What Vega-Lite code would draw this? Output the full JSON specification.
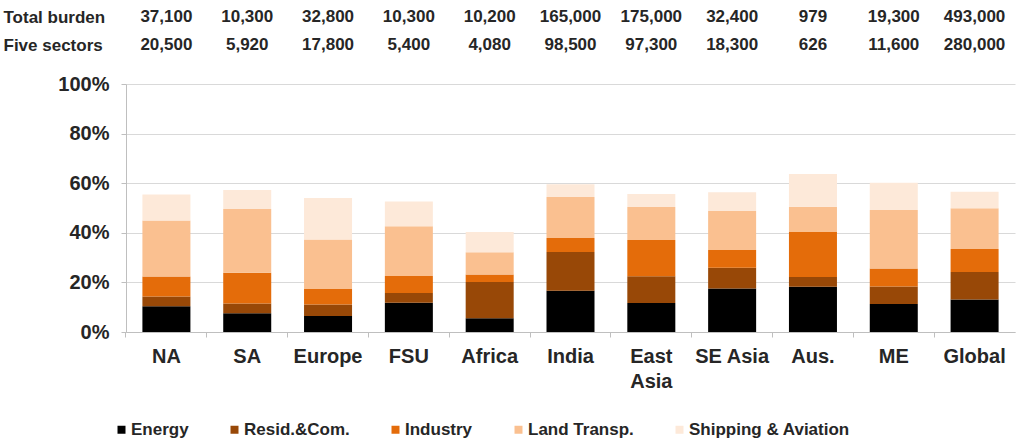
{
  "$schema": "https://vega.github.io/schema/vega-lite/v6.json",
  "padding": {"left": 3, "top": 3, "right": 4, "bottom": 0},
  "config": {
    "view": {"stroke": null},
    "font": "Liberation Sans"
  },
  "bounds": "flush",
  "spacing": 25,
  "resolve": {"scale": {"x": "independent"}, "axis": {"x": "independent"}},
  "datasets": {
    "header": [
      {"region": "NA", "row": "Total burden", "amount": 37100},
      {"region": "SA", "row": "Total burden", "amount": 10300},
      {"region": "Europe", "row": "Total burden", "amount": 32800},
      {"region": "FSU", "row": "Total burden", "amount": 10300},
      {"region": "Africa", "row": "Total burden", "amount": 10200},
      {"region": "India", "row": "Total burden", "amount": 165000},
      {"region": "East Asia", "row": "Total burden", "amount": 175000},
      {"region": "SE Asia", "row": "Total burden", "amount": 32400},
      {"region": "Aus.", "row": "Total burden", "amount": 979},
      {"region": "ME", "row": "Total burden", "amount": 19300},
      {"region": "Global", "row": "Total burden", "amount": 493000},
      {"region": "NA", "row": "Five sectors", "amount": 20500},
      {"region": "SA", "row": "Five sectors", "amount": 5920},
      {"region": "Europe", "row": "Five sectors", "amount": 17800},
      {"region": "FSU", "row": "Five sectors", "amount": 5400},
      {"region": "Africa", "row": "Five sectors", "amount": 4080},
      {"region": "India", "row": "Five sectors", "amount": 98500},
      {"region": "East Asia", "row": "Five sectors", "amount": 97300},
      {"region": "SE Asia", "row": "Five sectors", "amount": 18300},
      {"region": "Aus.", "row": "Five sectors", "amount": 626},
      {"region": "ME", "row": "Five sectors", "amount": 11600},
      {"region": "Global", "row": "Five sectors", "amount": 280000}
    ],
    "shares": [
      {"region": "NA", "sector": "Energy", "rank": 1, "share": 0.104},
      {"region": "NA", "sector": "Resid.&Com.", "rank": 2, "share": 0.039},
      {"region": "NA", "sector": "Industry", "rank": 3, "share": 0.081},
      {"region": "NA", "sector": "Land Transp.", "rank": 4, "share": 0.226},
      {"region": "NA", "sector": "Shipping & Aviation", "rank": 5, "share": 0.104},
      {"region": "SA", "sector": "Energy", "rank": 1, "share": 0.076},
      {"region": "SA", "sector": "Resid.&Com.", "rank": 2, "share": 0.039},
      {"region": "SA", "sector": "Industry", "rank": 3, "share": 0.124},
      {"region": "SA", "sector": "Land Transp.", "rank": 4, "share": 0.257},
      {"region": "SA", "sector": "Shipping & Aviation", "rank": 5, "share": 0.077},
      {"region": "Europe", "sector": "Energy", "rank": 1, "share": 0.065},
      {"region": "Europe", "sector": "Resid.&Com.", "rank": 2, "share": 0.046},
      {"region": "Europe", "sector": "Industry", "rank": 3, "share": 0.062},
      {"region": "Europe", "sector": "Land Transp.", "rank": 4, "share": 0.200},
      {"region": "Europe", "sector": "Shipping & Aviation", "rank": 5, "share": 0.167},
      {"region": "FSU", "sector": "Energy", "rank": 1, "share": 0.118},
      {"region": "FSU", "sector": "Resid.&Com.", "rank": 2, "share": 0.039},
      {"region": "FSU", "sector": "Industry", "rank": 3, "share": 0.069},
      {"region": "FSU", "sector": "Land Transp.", "rank": 4, "share": 0.200},
      {"region": "FSU", "sector": "Shipping & Aviation", "rank": 5, "share": 0.100},
      {"region": "Africa", "sector": "Energy", "rank": 1, "share": 0.055},
      {"region": "Africa", "sector": "Resid.&Com.", "rank": 2, "share": 0.147},
      {"region": "Africa", "sector": "Industry", "rank": 3, "share": 0.030},
      {"region": "Africa", "sector": "Land Transp.", "rank": 4, "share": 0.090},
      {"region": "Africa", "sector": "Shipping & Aviation", "rank": 5, "share": 0.081},
      {"region": "India", "sector": "Energy", "rank": 1, "share": 0.166},
      {"region": "India", "sector": "Resid.&Com.", "rank": 2, "share": 0.157},
      {"region": "India", "sector": "Industry", "rank": 3, "share": 0.056},
      {"region": "India", "sector": "Land Transp.", "rank": 4, "share": 0.165},
      {"region": "India", "sector": "Shipping & Aviation", "rank": 5, "share": 0.052},
      {"region": "East Asia", "sector": "Energy", "rank": 1, "share": 0.117},
      {"region": "East Asia", "sector": "Resid.&Com.", "rank": 2, "share": 0.108},
      {"region": "East Asia", "sector": "Industry", "rank": 3, "share": 0.146},
      {"region": "East Asia", "sector": "Land Transp.", "rank": 4, "share": 0.133},
      {"region": "East Asia", "sector": "Shipping & Aviation", "rank": 5, "share": 0.052},
      {"region": "SE Asia", "sector": "Energy", "rank": 1, "share": 0.175},
      {"region": "SE Asia", "sector": "Resid.&Com.", "rank": 2, "share": 0.084},
      {"region": "SE Asia", "sector": "Industry", "rank": 3, "share": 0.072},
      {"region": "SE Asia", "sector": "Land Transp.", "rank": 4, "share": 0.157},
      {"region": "SE Asia", "sector": "Shipping & Aviation", "rank": 5, "share": 0.076},
      {"region": "Aus.", "sector": "Energy", "rank": 1, "share": 0.182},
      {"region": "Aus.", "sector": "Resid.&Com.", "rank": 2, "share": 0.040},
      {"region": "Aus.", "sector": "Industry", "rank": 3, "share": 0.181},
      {"region": "Aus.", "sector": "Land Transp.", "rank": 4, "share": 0.102},
      {"region": "Aus.", "sector": "Shipping & Aviation", "rank": 5, "share": 0.132},
      {"region": "ME", "sector": "Energy", "rank": 1, "share": 0.113},
      {"region": "ME", "sector": "Resid.&Com.", "rank": 2, "share": 0.070},
      {"region": "ME", "sector": "Industry", "rank": 3, "share": 0.073},
      {"region": "ME", "sector": "Land Transp.", "rank": 4, "share": 0.236},
      {"region": "ME", "sector": "Shipping & Aviation", "rank": 5, "share": 0.110},
      {"region": "Global", "sector": "Energy", "rank": 1, "share": 0.131},
      {"region": "Global", "sector": "Resid.&Com.", "rank": 2, "share": 0.111},
      {"region": "Global", "sector": "Industry", "rank": 3, "share": 0.093},
      {"region": "Global", "sector": "Land Transp.", "rank": 4, "share": 0.164},
      {"region": "Global", "sector": "Shipping & Aviation", "rank": 5, "share": 0.067}
    ]
  },
  "vconcat": [
    {
      "width": 889,
      "height": 56,
      "data": {"name": "header"},
      "mark": {"type": "text", "fontSize": 17, "fontWeight": "bold", "color": "#262626"},
      "encoding": {
        "x": {
          "field": "region",
          "type": "nominal",
          "sort": ["NA", "SA", "Europe", "FSU", "Africa", "India", "East Asia", "SE Asia", "Aus.", "ME", "Global"],
          "scale": {"type": "point", "padding": 0.5},
          "axis": null
        },
        "y": {
          "field": "row",
          "type": "nominal",
          "sort": ["Total burden", "Five sectors"],
          "scale": {"type": "point", "padding": 0.5},
          "axis": {
            "title": null,
            "domain": false,
            "ticks": false,
            "tickSize": 0,
            "labelAlign": "left",
            "labelPadding": 123,
            "labelFontSize": 17,
            "labelFontWeight": "bold",
            "labelColor": "#262626"
          }
        },
        "text": {"field": "amount", "type": "quantitative", "format": ","}
      }
    },
    {
      "width": 889,
      "height": 248,
      "data": {"name": "shares"},
      "mark": {"type": "bar"},
      "encoding": {
        "x": {
          "field": "region",
          "type": "nominal",
          "sort": ["NA", "SA", "Europe", "FSU", "Africa", "India", "East Asia", "SE Asia", "Aus.", "ME", "Global"],
          "scale": {"paddingInner": 0.406, "paddingOuter": 0.203},
          "axis": {
            "title": null,
            "labelAngle": 0,
            "labelFontSize": 20,
            "labelFontWeight": "bold",
            "labelColor": "#262626",
            "labelPadding": 9,
            "labelLineHeight": 25,
            "labelExpr": "datum.value == 'East Asia' ? ['East', 'Asia'] : datum.value",
            "bandPosition": -0.342,
            "tickSize": 5,
            "tickColor": "#bfbfbf",
            "domainColor": "#bfbfbf"
          }
        },
        "y": {
          "field": "share",
          "type": "quantitative",
          "stack": "zero",
          "scale": {"domain": [0, 1]},
          "axis": {
            "title": null,
            "values": [0, 0.2, 0.4, 0.6, 0.8, 1],
            "format": ".0%",
            "grid": true,
            "gridColor": "#d9d9d9",
            "tickSize": 5,
            "tickColor": "#bfbfbf",
            "domainColor": "#bfbfbf",
            "labelFontSize": 20,
            "labelFontWeight": "bold",
            "labelColor": "#262626",
            "labelPadding": 12
          }
        },
        "order": {"field": "rank", "type": "quantitative", "sort": "ascending"},
        "color": {
          "field": "sector",
          "type": "nominal",
          "scale": {
            "domain": ["Energy", "Resid.&Com.", "Industry", "Land Transp.", "Shipping & Aviation"],
            "range": ["#000000", "#984807", "#e46c0a", "#fac090", "#fde9d9"]
          },
          "legend": {
            "title": null,
            "orient": "none",
            "legendX": -13,
            "legendY": 418,
            "direction": "horizontal",
            "symbolType": "square",
            "symbolSize": 64,
            "symbolStrokeWidth": 0,
            "labelFontSize": 17,
            "labelFontWeight": "bold",
            "labelColor": "#262626",
            "labelLimit": 300,
            "labelOffset": 1,
            "columnPadding": 37
          }
        }
      }
    }
  ]
}
